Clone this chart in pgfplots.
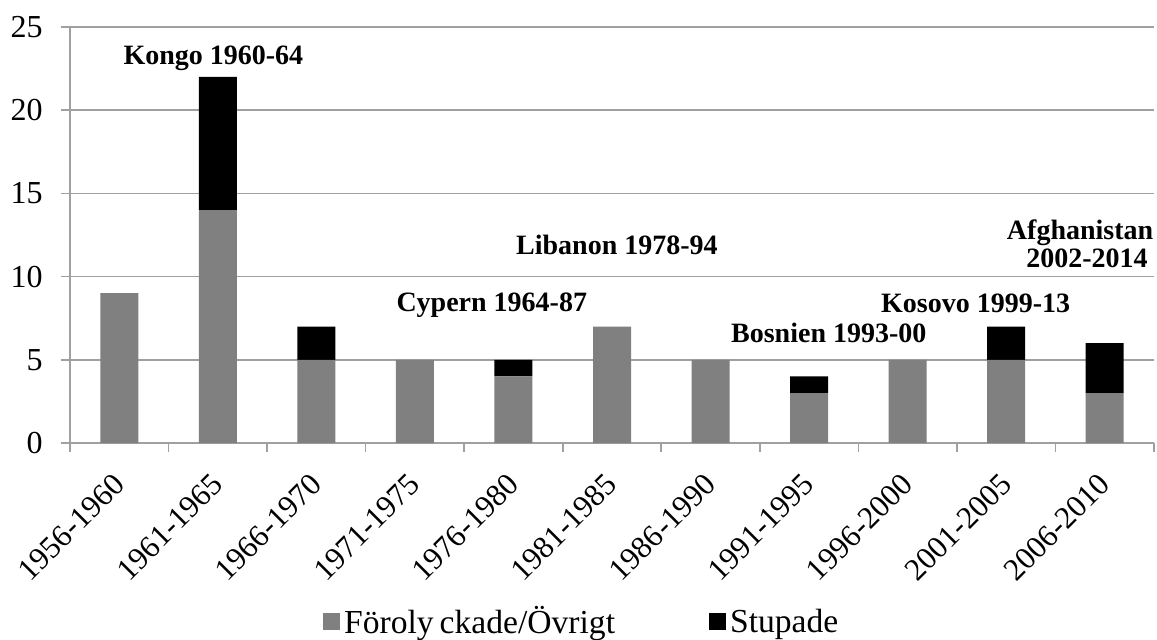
\documentclass[border=0pt]{standalone}
\usepackage{fontspec}
\setmainfont{Liberation Serif}
\usepackage{pgfplots}
\pgfplotsset{compat=1.18}
\definecolor{barg}{HTML}{808080}
\definecolor{gridg}{HTML}{A0A0A0}
\tikzset{ann/.style={font=\bfseries\fontsize{14}{12.5}\selectfont, inner sep=0pt}}
\begin{document}
\begin{tikzpicture}
\useasboundingbox (-35pt,-98pt) rectangle (543.5pt,221.5pt);
\begin{axis}[
  at={(0pt,0pt)}, anchor=south west,
  scale only axis, width=542pt, height=208pt,
  ybar stacked, bar width=19pt,
  xmin=-0.5, xmax=10.5, ymin=0, ymax=25,
  xtick={-0.5,0.5,1.5,2.5,3.5,4.5,5.5,6.5,7.5,8.5,9.5,10.5},
  xticklabels={},
  extra x ticks={0,1,2,3,4,5,6,7,8,9,10},
  extra x tick labels={1956-1960,1961-1965,1966-1970,1971-1975,1976-1980,1981-1985,1986-1990,1991-1995,1996-2000,2001-2005,2006-2010},
  extra x tick style={major tick length=0pt, grid=none,
     xticklabel style={xshift=0pt, yshift=-18pt, rotate=45, anchor=east, inner sep=0pt, font=\fontsize{15.6}{18}\selectfont}},
  ytick={0,5,10,15,20,25},
  ymajorgrids, grid style={gridg, line width=0.8pt},
  axis x line*=bottom, axis y line*=left,
  axis line style={gridg, line width=0.8pt, -},
  tick align=outside, major tick length=4.5pt,
  every tick/.style={gridg, line width=0.8pt},
  yticklabel style={anchor=east, inner sep=0pt, xshift=-9pt, font=\fontsize{16}{18}\selectfont},
  /pgf/number format/assume math mode=true,
  legend style={at={(axis description cs:0.473,-0.43)}, anchor=center, draw=none,
     font=\fontsize{16.8}{18}\selectfont, legend columns=2,
     /tikz/every even column/.append style={column sep=45pt}},
  legend image code/.code={\fill[#1] (0pt,-4.2pt) rectangle (8.5pt,4.2pt);},
]
\addplot[fill=barg, draw=none] coordinates {(0,9) (1,14) (2,5) (3,5) (4,4) (5,7) (6,5) (7,3) (8,5) (9,5) (10,3)};
\addplot[fill=black, draw=none] coordinates {(0,0) (1,8) (2,2) (3,0) (4,1) (5,0) (6,0) (7,1) (8,0) (9,2) (10,3)};
\legend{Föroly\hspace{3pt}ckade/Övrigt, Stupade}
\node[ann] at (axis cs:0.955,23.1) {Kongo 1960-64};
\node[ann] at (axis cs:5.05,11.9) {Libanon 1978-94};
\node[ann] at (axis cs:3.78,8.3) {Cypern 1964-87};
\node[ann] at (axis cs:7.2,6.6) {Bosnien 1993-00};
\node[ann] at (axis cs:8.69,8.4) {Kosovo 1999-13};
\node[ann] at (axis cs:9.75,12.62) {Afghanistan};
\node[ann] at (axis cs:9.82,11.12) {2002-2014};
\end{axis}
\end{tikzpicture}
\end{document}
